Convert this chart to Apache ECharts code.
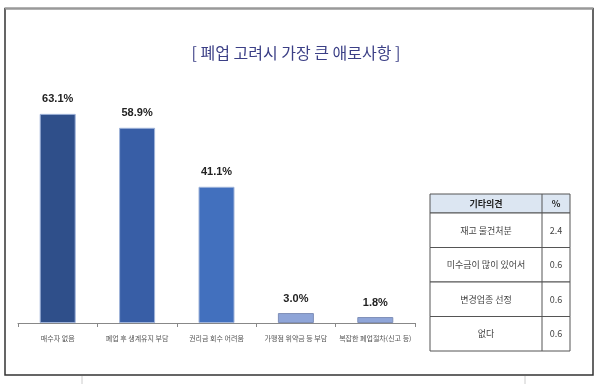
<!DOCTYPE html>
<html><head><meta charset="utf-8">
<script src="https://cdn.jsdelivr.net/npm/echarts@6/dist/echarts.min.js"></script>
<style>html,body{margin:0;padding:0;background:#fff}#c{width:600px;height:384px}</style>
</head><body><div id="c"></div>
<script>
const titleText = '[ 폐업 고려시 가장 큰 애로사항 ]';
const categories = ['매수자 없음', '폐업 후 생계유지 부담', '권리금 회수 어려움', '가맹점 위약금 등 부담', '복잡한 폐업절차(신고 등)'];
const values = [63.1, 58.9, 41.1, 3.0, 1.8];
const barColors = ['#2F4F8A', '#385EA6', '#4270BE', '#8FA5D8', '#8FA5D8'];
const tableHeader = ['기타의견', '%'];
const otherNames = ['재고 물건처분', '미수금이 많이 있어서', '변경업종 선정', '없다'];
const otherValues = ['2.4', '0.6', '0.6', '0.6'];

const KFONT = '"Noto Sans CJK KR", "Noto Sans", sans-serif';

// table graphics built from arrays
const tX = 430, tW = 140, tDiv = 542, hY = 194, hH = 19, rH = 34.5;
const tableEls = [];
tableEls.push({type:'rect', shape:{x:tX, y:hY, width:tW, height:hH}, style:{fill:'#DCE6F2', stroke:'#555', lineWidth:1}});
tableEls.push({type:'text', x:(tX+tDiv)/2, y:hY+hH/2, style:{text:tableHeader[0], font:'bold 9px '+KFONT, fill:'#222', align:'center', verticalAlign:'middle'}});
tableEls.push({type:'text', x:(tDiv+tX+tW)/2, y:hY+hH/2, style:{text:tableHeader[1], font:'bold 9px '+KFONT, fill:'#222', align:'center', verticalAlign:'middle'}});
otherNames.forEach((n, i) => {
  const y = hY + hH + i*rH;
  tableEls.push({type:'rect', shape:{x:tX, y:y, width:tW, height:rH}, style:{fill:'#fff', stroke:'#555', lineWidth:1}});
  tableEls.push({type:'text', x:(tX+tDiv)/2, y:y+rH/2, style:{text:n, font:'9px '+KFONT, fill:'#444', align:'center', verticalAlign:'middle'}});
  tableEls.push({type:'text', x:(tDiv+tX+tW)/2, y:y+rH/2, style:{text:otherValues[i], font:'9px '+KFONT, fill:'#444', align:'center', verticalAlign:'middle'}});
});
tableEls.push({type:'line', shape:{x1:tDiv, y1:hY, x2:tDiv, y2:hY+hH+otherNames.length*rH}, style:{stroke:'#555', lineWidth:1}});

const chart = echarts.init(document.getElementById('c'), null, {renderer:'canvas'});
chart.setOption({
  animation: false,
  backgroundColor: '#fff',
  title: {
    text: titleText, left: 291, top: 40, textAlign: 'center',
    textStyle: {fontFamily: KFONT, fontSize: 16, fontWeight: 'normal', color: '#3B3F86'}
  },
  grid: {left: 18, right: 185, top: 91, bottom: 61},
  xAxis: {
    type: 'category', data: categories,
    axisLine: {lineStyle: {color: '#888', width: 1}},
    axisTick: {show: true, length: 4, lineStyle: {color: '#888'}},
    axisLabel: {fontFamily: KFONT, fontSize: 7, color: '#555', margin: 12, interval: 0}
  },
  yAxis: {type: 'value', min: 0, max: 70, show: false, splitLine: {show: false}},
  series: [{
    type: 'bar', barWidth: 36,
    data: values.map((v, i) => ({value: v, itemStyle: {color: barColors[i], borderColor: i >= 3 ? '#7F8FB8' : '#9FB3D9', borderWidth: 1}})),
    label: {
      show: true, position: 'top', distance: 9,
      formatter: p => p.value.toFixed(1) + '%',
      fontFamily: '"Liberation Sans", Arial, sans-serif', fontWeight: 'bold', fontSize: 11, color: '#222'
    }
  }],
  graphic: [
    {type:'rect', shape:{x:5, y:8.5, width:588, height:366.5}, style:{fill:'none', stroke:'#333', lineWidth:1.5}, z:10},
    {type:'line', shape:{x1:5, y1:8.5, x2:593, y2:8.5}, style:{stroke:'#999', lineWidth:2}, z:11},
    {type:'line', shape:{x1:82, y1:376, x2:82, y2:384}, style:{stroke:'#ccc', lineWidth:1}},
    {type:'line', shape:{x1:525, y1:376, x2:525, y2:384}, style:{stroke:'#ccc', lineWidth:1}},
    ...tableEls
  ]
});
</script></body></html>
